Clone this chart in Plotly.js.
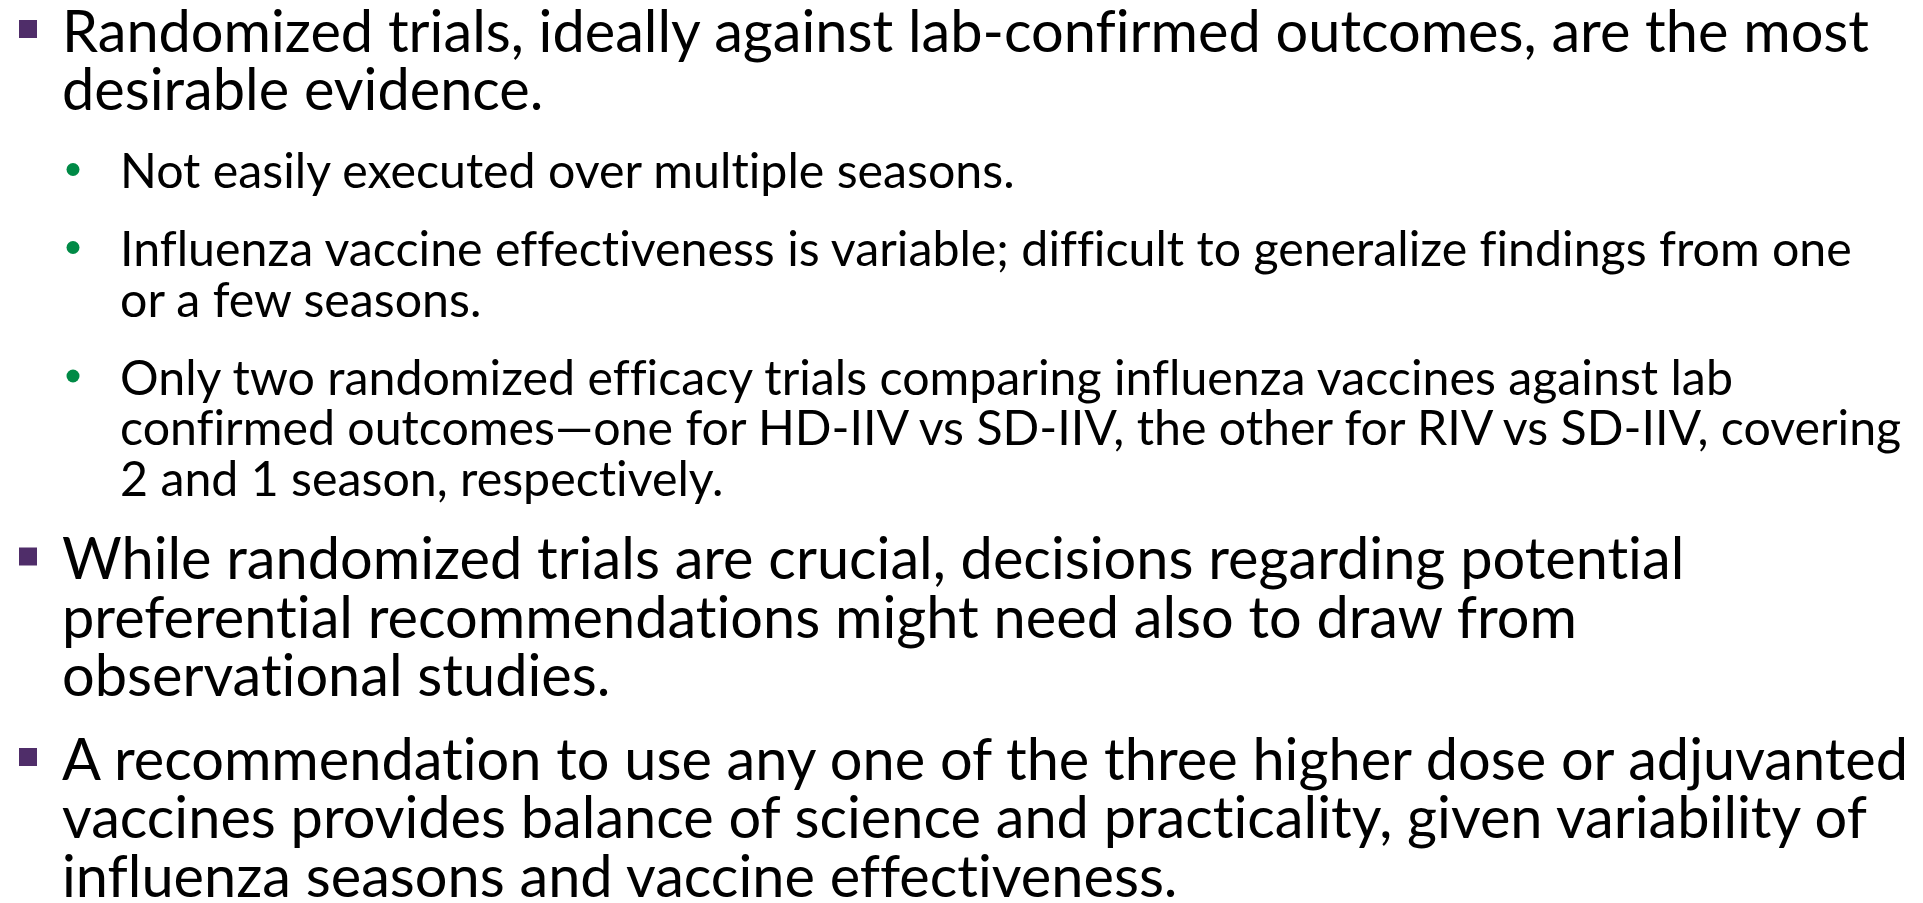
<!DOCTYPE html>
<html><head><meta charset="utf-8">
<script src="https://cdn.plot.ly/plotly-3.0.1.min.js"></script>
<style>
html,body{margin:0;padding:0;background:#fff;overflow:hidden}
#chart{width:1923px;height:903px}
svg text{font-variant-ligatures:none;font-feature-settings:"liga" 0,"clig" 0}
</style>
</head><body><div id="chart"></div>
<script>
// ---- content ----
const paragraphLevels = [0, 1, 1, 1, 0, 0];
const paragraph1 = ["Randomized trials, ideally against lab-confirmed outcomes, are the most", "desirable evidence."];
const paragraph2 = ["Not easily executed over multiple seasons."];
const paragraph3 = ["Influenza vaccine effectiveness is variable; difficult to generalize findings from one", "or a few seasons."];
const paragraph4 = ["Only two randomized efficacy trials comparing influenza vaccines against lab", "confirmed outcomes\u2014one for HD-IIV vs SD-IIV, the other for RIV vs SD-IIV, covering", "2 and 1 season, respectively."];
const paragraph5 = ["While randomized trials are crucial, decisions regarding potential", "preferential recommendations might need also to draw from", "observational studies."];
const paragraph6 = ["A recommendation to use any one of the three higher dose or adjuvanted", "vaccines provides balance of science and practicality, given variability of", "influenza seasons and vaccine effectiveness."];
const paragraphs = [paragraph1, paragraph2, paragraph3, paragraph4, paragraph5, paragraph6];

// ---- styles per outline level ----
const levelStyle = [
  {fontSize: 57.7, lineH: 58.5, gap: 25, textX: 61, bulletX: 28, symbol: 'square', color: '#4F2D69', bSize: 18, rise: 21},
  {fontSize: 48.3, lineH: 50.5, gap: 27.5, textX: 119, bulletX: 73, symbol: 'circle', color: '#008A46', bSize: 13, rise: 17}
];
const firstBaseline = 50;
const FONT = 'Lato, "Open Sans", sans-serif';

const annotations = [];
const bullets = [[], []]; // per level: {x, y}
let y = firstBaseline - levelStyle[paragraphLevels[0]].lineH;
paragraphs.forEach((lines, i) => {
  const st = levelStyle[paragraphLevels[i]];
  if (i > 0) y += st.gap;
  lines.forEach((line, j) => {
    y += st.lineH;
    if (j === 0) bullets[paragraphLevels[i]].push({x: st.bulletX, y: y - st.rise});
    annotations.push({
      x: st.textX, y: y - 0.36 * st.fontSize, xref: 'x', yref: 'y',
      xanchor: 'left', yanchor: 'middle', showarrow: false, borderpad: 0,
      text: line, font: {family: FONT, size: st.fontSize, color: '#000000'}
    });
  });
});

const traces = bullets.map((arr, lv) => ({
  type: 'scatter', mode: 'markers',
  x: arr.map(b => b.x), y: arr.map(b => b.y),
  marker: {symbol: levelStyle[lv].symbol, size: levelStyle[lv].bSize, color: levelStyle[lv].color, line: {width: 0}},
  hoverinfo: 'skip', showlegend: false
}));

const layout = {
  width: 1923, height: 903,
  margin: {l: 0, r: 0, t: 0, b: 0, pad: 0},
  paper_bgcolor: '#ffffff', plot_bgcolor: '#ffffff',
  xaxis: {range: [0, 1923], visible: false, fixedrange: true},
  yaxis: {range: [903, 0], visible: false, fixedrange: true},
  annotations: annotations,
  showlegend: false
};
Plotly.newPlot('chart', traces, layout, {displayModeBar: false, staticPlot: true});
</script>
</body></html>
